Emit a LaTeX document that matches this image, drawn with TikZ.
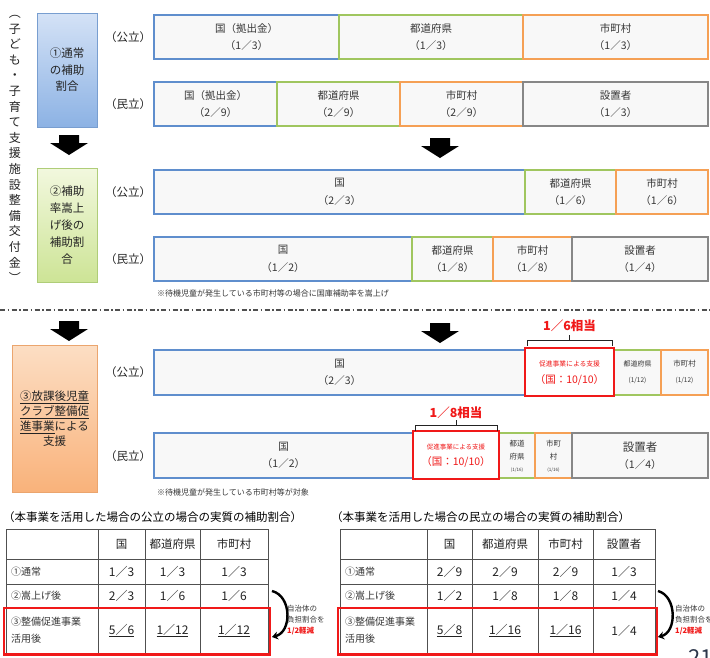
\documentclass[tikz,border=0pt]{standalone}
\usepackage{fontspec}
\setmainfont{Noto Sans CJK JP}
\usetikzlibrary{arrows.meta}
\definecolor{kuniblue}{RGB}{95,142,205}
\definecolor{kengreen}{RGB}{160,198,95}
\definecolor{shiorange}{RGB}{245,160,85}
\definecolor{setgray}{RGB}{135,135,135}
\definecolor{barfill}{RGB}{248,248,248}
\definecolor{txtgray}{RGB}{55,55,55}
\definecolor{darktxt}{RGB}{35,35,35}
\definecolor{alertred}{RGB}{240,25,25}
\definecolor{tblline}{RGB}{80,80,80}
\definecolor{pagenum}{RGB}{45,55,75}
\newcommand\barpart[7]{%
  \node[#6, minimum width={(#3)-(#2)}, minimum height={(#5)-(#4)}] (#1) at ({((#2)+(#3))/2},{((#4)+(#5))/2}) {#7};}
\newcommand\blockdown[2]{%
  \fill[black] ({#1-10},{#2}) -- ({#1+10},{#2}) -- ({#1+10},{#2+8}) -- ({#1+19},{#2+8}) -- ({#1},{#2+20}) -- ({#1-19},{#2+8}) -- ({#1-10},{#2+8}) -- cycle;}
\begin{document}
\begin{tikzpicture}[x=1pt,y=-1pt,
  barseg/.style={draw, fill=barfill, line width=1.3pt, inner sep=0pt, outer sep=0pt, align=center, text=txtgray, font=\fontsize{10.5}{17.5}\selectfont},
  kuni/.style={barseg, draw=kuniblue},
  ken/.style={barseg, draw=kengreen},
  shi/.style={barseg, draw=shiorange},
  setti/.style={barseg, draw=setgray},
  redseg/.style={barseg, draw=alertred, line width=2.8pt, fill=white},
  kindlabel/.style={font=\fontsize{11.5}{13}\selectfont, text=darktxt, inner sep=0pt},
  sidebox/.style={draw, line width=0.8pt, inner sep=0pt, align=center, text=darktxt},
  smalltxt/.style={inner sep=0pt, text=txtgray},
  redtxt/.style={inner sep=0pt, text=alertred},
  redlabel/.style={inner sep=0pt, text=alertred, font=\fontsize{12.5}{14}\selectfont\bfseries},
  bracket/.style={draw=darktxt, line width=1pt},
  footnote/.style={inner sep=0pt, anchor=west, text=txtgray, font=\fontsize{8}{10}\selectfont},
  tbltitle/.style={inner sep=0pt, anchor=west, text=black, font=\fontsize{11.5}{13}\selectfont},
  tline/.style={draw=tblline, line width=0.9pt},
  thead/.style={inner sep=0pt, text=darktxt, font=\fontsize{11.5}{13}\selectfont},
  tval/.style={inner sep=0pt, text=darktxt, font=\fontsize{12}{14}\selectfont},
  trow/.style={inner sep=0pt, anchor=west, text=txtgray, align=left, font=\fontsize{10}{17}\selectfont},
  redframe/.style={draw=alertred, line width=2.5pt},
  curvearrow/.style={draw=black, line width=2.4pt, -{Stealth[length=6pt,width=8pt]}},
  notetxt/.style={inner sep=0pt, anchor=west, align=left, text=txtgray, font=\fontsize{7.5}{11}\selectfont}
]
\useasboundingbox (0,0) rectangle (710,657);
\fill[white] (0,0) rectangle (710,657);

% vertical title
\node[inner sep=0pt, align=center, text=darktxt, font=\fontsize{12}{15.6}\selectfont] (vtitle) at (15,149)
 {︵\\子\\ど\\も\\・\\子\\育\\て\\支\\援\\施\\設\\整\\備\\交\\付\\金\\︶};

% left stage boxes
\node[sidebox, draw={rgb,255:red,120;green,158;blue,208}, top color={rgb,255:red,212;green,226;blue,246}, bottom color={rgb,255:red,140;green,178;blue,228},
  minimum width=60, minimum height=114, font=\fontsize{11.5}{16.5}\selectfont] (box1) at (67,70) {①通常\\の補助\\割合};
\node[sidebox, draw={rgb,255:red,175;green,205;blue,120}, top color={rgb,255:red,242;green,248;blue,222}, bottom color={rgb,255:red,205;green,228;blue,150},
  minimum width=60, minimum height=114, font=\fontsize{11.5}{17}\selectfont] (box2) at (67,225) {②補助\\率嵩上\\げ後の\\補助割\\合};
\node[sidebox, draw={rgb,255:red,235;green,165;blue,110}, top color={rgb,255:red,252;green,222;blue,196}, bottom color={rgb,255:red,249;green,178;blue,122},
  minimum width=85, minimum height=147, font=\fontsize{11.5}{15}\selectfont] (box3) at (54.5,418.5)
  {\underline{③放課後児童}\\\underline{クラブ整備促}\\\underline{進事業}による\\支援};

% block arrows
\blockdown{69}{135}
\blockdown{440}{138}
\blockdown{69}{321}
\blockdown{440}{323}

% kind labels
\node[kindlabel] (k1) at (128,37) {（公立）};
\node[kindlabel] (k2) at (128,104) {（民立）};
\node[kindlabel] (k3) at (128,192) {（公立）};
\node[kindlabel] (k4) at (128,259) {（民立）};
\node[kindlabel] (k5) at (128,372) {（公立）};
\node[kindlabel] (k6) at (128,456) {（民立）};

% bar 1
\barpart{b1k}{154}{339}{15}{59}{kuni}{国（拠出金）\\（1／3）}
\barpart{b1t}{339}{523}{15}{59}{ken}{都道府県\\（1／3）}
\barpart{b1s}{523}{708}{15}{59}{shi}{市町村\\（1／3）}
% bar 2
\barpart{b2k}{154}{277}{82}{126}{kuni}{国（拠出金）\\（2／9）}
\barpart{b2t}{277}{400}{82}{126}{ken}{都道府県\\（2／9）}
\barpart{b2s}{400}{523}{82}{126}{shi}{市町村\\（2／9）}
\barpart{b2x}{523}{708}{82}{126}{setti}{設置者\\（1／3）}
% bar 3
\barpart{b3k}{154}{525}{170}{214}{kuni}{国\\（2／3）}
\barpart{b3t}{525}{616}{170}{214}{ken}{都道府県\\（1／6）}
\barpart{b3s}{616}{708}{170}{214}{shi}{市町村\\（1／6）}
% bar 4
\barpart{b4k}{154}{412}{237}{281}{kuni}{国\\（1／2）}
\barpart{b4t}{412}{493}{237}{281}{ken}{都道府県\\（1／8）}
\barpart{b4s}{493}{572}{237}{281}{shi}{市町村\\（1／8）}
\barpart{b4x}{572}{708}{237}{281}{setti}{設置者\\（1／4）}
\node[footnote] (fn1) at (157,293) {※待機児童が発生している市町村等の場合に国庫補助率を嵩上げ};

% dash-dot separator
\coordinate (sepL) at (0,310);
\coordinate (sepR) at (710,310);
\draw[draw=tblline, line width=1.6pt, dash pattern=on 5pt off 2.5pt on 1.5pt off 2.5pt] (sepL) -- (sepR);

% bar 5
\barpart{b5k}{154}{525}{350}{395}{kuni}{国\\（2／3）}
\barpart{b5t}{614}{661}{350}{395}{ken}{}
\barpart{b5s}{661}{708}{350}{395}{shi}{}
\barpart{b5r}{525}{614}{348}{396}{redseg}{}
\node[smalltxt, font=\fontsize{7}{8}\selectfont] (b5t1) at (637.5,364) {都道府県};
\node[smalltxt, font=\fontsize{6.5}{8}\selectfont] (b5t2) at (637.5,380) {(1/12)};
\node[smalltxt, font=\fontsize{7.5}{8}\selectfont] (b5s1) at (684.5,364) {市町村};
\node[smalltxt, font=\fontsize{6.5}{8}\selectfont] (b5s2) at (684.5,380) {(1/12)};
\node[redtxt, font=\fontsize{6.8}{8}\selectfont] (b5r1) at (569.5,364) {促進事業による支援};
\node[redtxt, font=\fontsize{10.5}{12}\selectfont] (b5r2) at (569.5,380) {（国：10/10）};
\draw[bracket] (527,346) -- (527,340) -- (612,340) -- (612,346);
\draw[bracket] (569.5,340) -- (569.5,335);
\node[redlabel] (l16) at (569.5,326) {1／6相当};

% bar 6
\barpart{b6k}{154}{413}{433}{478}{kuni}{国\\（1／2）}
\barpart{b6t}{499}{535}{433}{478}{ken}{}
\barpart{b6s}{535}{572}{433}{478}{shi}{}
\barpart{b6x}{572}{708}{433}{478}{setti}{\fontsize{11.5}{18}\selectfont 設置者\\（1／4）}
\barpart{b6r}{413}{499}{431}{479}{redseg}{}
\node[smalltxt, font=\fontsize{7.5}{8}\selectfont] (b6t1) at (517,444) {都道};
\node[smalltxt, font=\fontsize{7.5}{8}\selectfont] (b6t2) at (517,457) {府県};
\node[smalltxt, font=\fontsize{4.5}{5}\selectfont] (b6t3) at (517,470) {(1/16)};
\node[smalltxt, font=\fontsize{7.5}{8}\selectfont] (b6s1) at (553.5,444) {市町};
\node[smalltxt, font=\fontsize{7.5}{8}\selectfont] (b6s2) at (553.5,457) {村};
\node[smalltxt, font=\fontsize{4.5}{5}\selectfont] (b6s3) at (553.5,470) {(1/16)};
\node[redtxt, font=\fontsize{6.5}{8}\selectfont] (b6r1) at (456,447) {促進事業による支援};
\node[redtxt, font=\fontsize{10.5}{12}\selectfont] (b6r2) at (456,462) {（国：10/10）};
\draw[bracket] (415,431) -- (415,425) -- (497,425) -- (497,431);
\draw[bracket] (456,425) -- (456,420);
\node[redlabel] (l18) at (456,413) {1／8相当};
\node[footnote] (fn2) at (157,492) {※待機児童が発生している市町村等が対象};

% ---------- left table ----------
\node[tbltitle] (lttl) at (3,517) {（本事業を活用した場合の公立の場合の実質の補助割合）};
\draw[tline] (6,529) rectangle (268,653);
\foreach \yy in {559,584,608} \draw[tline] (6,\yy) -- (268,\yy);
\foreach \xx in {98,145,200} \draw[tline] (\xx,529) -- (\xx,653);
\node[thead] (lh1) at (121.5,544) {国};
\node[thead] (lh2) at (172.5,544) {都道府県};
\node[thead] (lh3) at (234,544) {市町村};
\node[trow] (lr1) at (11,571.5) {①通常};
\node[trow] (lr2) at (11,596) {②嵩上げ後};
\node[trow] (lr3) at (11,630.5) {③整備促進事業\\活用後};
\node[tval] (l11) at (121.5,571.5) {1／3};
\node[tval] (l12) at (172.5,571.5) {1／3};
\node[tval] (l13) at (234,571.5) {1／3};
\node[tval] (l21) at (121.5,596) {2／3};
\node[tval] (l22) at (172.5,596) {1／6};
\node[tval] (l23) at (234,596) {1／6};
\node[tval] (l31) at (121.5,630.5) {\underline{5／6}};
\node[tval] (l32) at (172.5,630.5) {\underline{1／12}};
\node[tval] (l33) at (234,630.5) {\underline{1／12}};
\draw[redframe] (4,608) rectangle (270,654.5);
\coordinate (lcA) at (272,591);
\coordinate (lcB) at (272,637);
\draw[curvearrow] (lcA) .. controls (292,596) and (292,632) .. (lcB);
\node[notetxt] (lnote) at (287,620) {自治体の\\負担割合を\\{\color{alertred}\bfseries 1/2軽減}};

% ---------- right table ----------
\node[tbltitle] (rttl) at (331,517) {（本事業を活用した場合の民立の場合の実質の補助割合）};
\draw[tline] (340,529) rectangle (655,653);
\foreach \yy in {559,584,608} \draw[tline] (340,\yy) -- (655,\yy);
\foreach \xx in {427,472,538,593} \draw[tline] (\xx,529) -- (\xx,653);
\node[thead] (rh1) at (449.5,544) {国};
\node[thead] (rh2) at (505,544) {都道府県};
\node[thead] (rh3) at (565.5,544) {市町村};
\node[thead] (rh4) at (624,544) {設置者};
\node[trow] (rr1) at (345,571.5) {①通常};
\node[trow] (rr2) at (345,596) {②嵩上げ後};
\node[trow] (rr3) at (345,630.5) {③整備促進事業\\活用後};
\node[tval] (r11) at (449.5,571.5) {2／9};
\node[tval] (r12) at (505,571.5) {2／9};
\node[tval] (r13) at (565.5,571.5) {2／9};
\node[tval] (r14) at (624,571.5) {1／3};
\node[tval] (r21) at (449.5,596) {1／2};
\node[tval] (r22) at (505,596) {1／8};
\node[tval] (r23) at (565.5,596) {1／8};
\node[tval] (r24) at (624,596) {1／4};
\node[tval] (r31) at (449.5,630.5) {\underline{5／8}};
\node[tval] (r32) at (505,630.5) {\underline{1／16}};
\node[tval] (r33) at (565.5,630.5) {\underline{1／16}};
\node[tval] (r34) at (624,630.5) {1／4};
\draw[redframe] (338,608) rectangle (657,654.5);
\coordinate (rcA) at (658,591);
\coordinate (rcB) at (658,637);
\draw[curvearrow] (rcA) .. controls (677,596) and (677,632) .. (rcB);
\node[notetxt] (rnote) at (675,620) {自治体の\\負担割合を\\{\color{alertred}\bfseries 1/2軽減}};

% page number (partly cut, as in the reference)
\node[inner sep=0pt, anchor=base west, text=pagenum, font=\fontsize{22}{22}\selectfont] (pnum) at (688,665) {21};
\end{tikzpicture}
\end{document}
